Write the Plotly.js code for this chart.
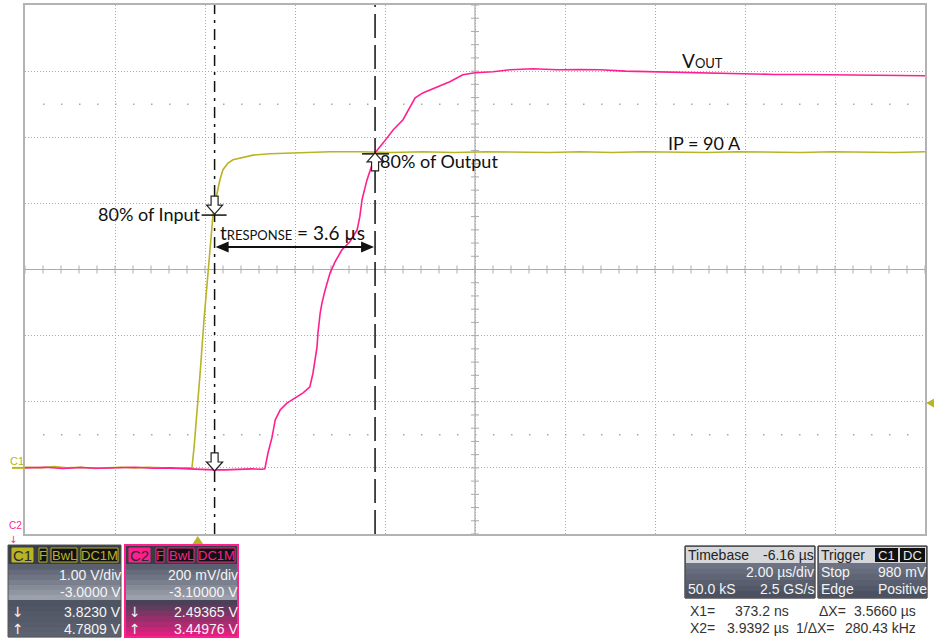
<!DOCTYPE html>
<html><head><meta charset="utf-8">
<script src="https://cdn.plot.ly/plotly-3.0.1.min.js"></script>
<style>html,body{margin:0;padding:0;background:#fff;} #chart{width:934px;height:641px;}</style>
</head><body><div id="chart"></div>
<script>
// ---------------- DATA ----------------
// Channel 1 (input current probe, volts) vs time (µs)
const c1Time = [-3.84, -3.5, -3.2, -2.9, -2.6, -2.3, -2.0, -1.7, -1.4, -1.1, -0.8, -0.5, -0.25, -0.13,
  -0.084, -0.018, 0.049, 0.138, 0.227, 0.293, 0.338, 0.382, 0.427, 0.493, 0.56, 0.671, 0.782, 1.0, 1.227,
  1.6, 2.05, 2.94, 3.6, 4.3, 5.0, 5.7, 6.4, 7.1, 7.8, 8.5, 9.2, 9.9, 10.6, 11.3, 12.0, 12.7, 13.4, 14.1,
  14.8, 15.5, 16.16];
const c1Volts = [0.01, 0.0, 0.02, 0.0, 0.01, -0.01, 0.0, 0.01, 0.0, 0.01, 0.0, -0.01, 0.0, 0.0,
  0.30, 0.80, 1.41, 2.24, 2.99, 3.52, 3.83, 4.01, 4.16, 4.36, 4.51, 4.61, 4.66, 4.70, 4.73,
  4.75, 4.76, 4.78, 4.78, 4.77, 4.78, 4.77, 4.78, 4.77, 4.77, 4.78, 4.77, 4.78, 4.77, 4.77, 4.78, 4.77,
  4.77, 4.78, 4.77, 4.77, 4.78];
// Channel 2 (VOUT, volts) vs time (µs)
const c2Time = [-3.84, -3.4, -3.0, -2.6, -2.2, -1.8, -1.4, -1.0, -0.6, -0.2, 0.1, 0.37, 0.6, 0.9, 1.2, 1.43,
  1.49, 1.56, 1.65, 1.72, 1.83, 1.98, 2.16, 2.34, 2.49, 2.56, 2.65, 2.67, 2.72, 2.76, 2.83, 2.87, 2.94,
  3.05, 3.20, 3.38, 3.54, 3.60, 3.65, 3.72, 3.76, 3.87, 3.94, 4.12, 4.34, 4.56, 4.72, 4.83, 5.00, 5.32,
  5.60, 5.89, 6.16, 6.56, 6.94, 7.45, 7.99, 8.5, 8.94, 9.5, 10.16, 10.8, 11.5, 12.16, 12.8, 13.5, 14.27,
  15.0, 15.6, 16.16];
const c2Volts = [2.500, 2.502, 2.498, 2.501, 2.499, 2.500, 2.502, 2.499, 2.500, 2.497, 2.495, 2.494, 2.494,
  2.496, 2.497, 2.496, 2.497, 2.545, 2.593, 2.645, 2.675, 2.696, 2.711, 2.727, 2.745, 2.787, 2.866, 2.908,
  2.969, 2.999, 3.038, 3.059, 3.090, 3.123, 3.159, 3.184, 3.220, 3.259, 3.311, 3.350, 3.371, 3.416, 3.453,
  3.483, 3.522, 3.553, 3.592, 3.619, 3.634, 3.652, 3.668, 3.689, 3.695, 3.698, 3.704, 3.707, 3.704, 3.705,
  3.704, 3.700, 3.698, 3.695, 3.693, 3.692, 3.690, 3.690, 3.689, 3.687, 3.687, 3.686];

// Scope settings / cursor readouts
const timePerDiv = 2.0;        // µs/div
const timebase = -6.16;        // µs (trigger offset)
const c1VoltsPerDiv = 1.0, c1Offset = -3.0;
const c2VoltsPerDiv = 0.2, c2Offset = -3.1;
const cursorX1 = 0.3732;       // µs
const cursorX2 = 3.9392;       // µs
const c1CursorV = [3.8230, 4.7809];
const c2CursorV = [2.49365, 3.44976];
const triggerLevel = 0.98;     // V on C1
const labels = {input: '80% of Input', output: '80% of Output',
  vout: 'V<span style="font-size:13px">OUT</span>', ip: 'IP = 90 A',
  resp: 't<span style="font-size:13px">RESPONSE</span> = 3.6 µs'};

// ---------------- LAYOUT HELPERS ----------------
const tCenter = -timebase;
const xr = [tCenter - 5 * timePerDiv, tCenter + 5 * timePerDiv];
const y1r = [-c1Offset - 4 * c1VoltsPerDiv, -c1Offset + 4 * c1VoltsPerDiv];
const y2r = [-c2Offset - 4 * c2VoltsPerDiv, -c2Offset + 4 * c2VoltsPerDiv];
const L = 25, R = 925, T = 5, B = 534, W = R - L, H = B - T;
const PX = px => (px - L) / W;
const PY = py => (B - py) / H;
const tx = t => L + (t - xr[0]) / (xr[1] - xr[0]) * W;          // time -> px
const v1y = v => B - (v - y1r[0]) / (y1r[1] - y1r[0]) * H;     // C1 volts -> px
const v2y = v => B - (v - y2r[0]) / (y2r[1] - y2r[0]) * H;     // C2 volts -> px

const YEL = '#b8b426', PINK = '#ff1f8e';
const shapes = [], ann = [];
const FONT = 'Liberation Sans, Arial, sans-serif';
const ARW = 'DejaVu Sans, sans-serif';
const LBL = 'Lato, Calibri, sans-serif';

// center cross
shapes.push({type:'line', xref:'x', yref:'paper', x0:tCenter, x1:tCenter, y0:0, y1:1, line:{color:'#ababab', width:1.2}, layer:'below'});
shapes.push({type:'line', xref:'paper', yref:'y', x0:0, x1:1, y0:-c1Offset, y1:-c1Offset, line:{color:'#ababab', width:1.2}, layer:'below'});
for (let i = -25; i <= 25; i++) {
  const t = tCenter + i * timePerDiv / 5;
  shapes.push({type:'line', xref:'x', yref:'paper', x0:t, x1:t, y0:0.5 - 4 / H, y1:0.5 + 4 / H, line:{color:'#ababab', width:1}, layer:'below'});
}
for (let j = -20; j <= 20; j++) {
  const v = -c1Offset + j * c1VoltsPerDiv / 5;
  shapes.push({type:'line', xref:'paper', yref:'y', x0:0.5 - 4 / W, x1:0.5 + 4 / W, y0:v, y1:v, line:{color:'#ababab', width:1}, layer:'below'});
}
// dotted rows at ±2.5 div
[-2.5, 2.5].forEach(d => {
  const v = -c1Offset + d * c1VoltsPerDiv;
  shapes.push({type:'line', xref:'paper', yref:'y', x0:18 / W, x1:1, y0:v, y1:v, line:{color:'#a8a8a8', width:1.5, dash:'1.5px,16.5px'}, layer:'below'});
});

// cursors
shapes.push({type:'line', xref:'x', yref:'paper', x0:cursorX1, x1:cursorX1, y0:0, y1:1, line:{color:'#111', width:1.5, dash:'11px,6px,3px,6px'}});
shapes.push({type:'line', xref:'x', yref:'paper', x0:cursorX2, x1:cursorX2, y0:0, y1:1, line:{color:'#111', width:1.5, dash:'24px,7px'}});
// horizontal cursor ticks
shapes.push({type:'line', xref:'paper', yref:'y', x0:PX(tx(cursorX1) - 13), x1:PX(tx(cursorX1) + 12), y0:c1CursorV[0], y1:c1CursorV[0], line:{color:'#111', width:1.5}});
shapes.push({type:'line', xref:'paper', yref:'y2', x0:PX(tx(cursorX2) - 13), x1:PX(tx(cursorX2) + 14), y0:c2CursorV[1], y1:c2CursorV[1], line:{color:'#111', width:1.5}});

// hollow block arrows
function blockArrow(cx, tip, dir) { // dir: +1 pointing down, -1 pointing up
  const p = (dx, dy) => PX(cx + dx).toFixed(5) + ',' + PY(tip - dir * dy).toFixed(5);
  return 'M' + p(-3.5, 18) + 'L' + p(3.5, 18) + 'L' + p(3.5, 9) + 'L' + p(8, 9) + 'L' + p(0, 0) + 'L' + p(-8, 9) + 'L' + p(-3.5, 9) + 'Z';
}
shapes.push({type:'path', xref:'paper', yref:'paper', path:blockArrow(tx(cursorX1), v1y(c1CursorV[0]) - 1, 1), fillcolor:'#fff', line:{color:'#222', width:1.2}});
shapes.push({type:'path', xref:'paper', yref:'paper', path:blockArrow(tx(cursorX1), v2y(c2CursorV[0]) + 1, 1), fillcolor:'#fff', line:{color:'#222', width:1.2}});
shapes.push({type:'path', xref:'paper', yref:'paper', path:blockArrow(tx(cursorX2), v2y(c2CursorV[1]) - 1, -1), fillcolor:'#fff', line:{color:'#222', width:1.2}});

// trigger markers
(function(){
  const ty = v1y(triggerLevel);
  shapes.push({type:'path', xref:'paper', yref:'paper', path:'M' + PX(926) + ',' + PY(ty) + 'L' + PX(935) + ',' + PY(ty - 5) + 'L' + PX(935) + ',' + PY(ty + 5) + 'Z', fillcolor:YEL, line:{width:0}});
  const tx0 = tx(0);
  shapes.push({type:'path', xref:'paper', yref:'paper', path:'M' + PX(tx0) + ',' + PY(536) + 'L' + PX(tx0 + 6) + ',' + PY(545) + 'L' + PX(tx0 - 6) + ',' + PY(545) + 'Z', fillcolor:YEL, line:{width:0}});
  // C1 ground marker line
  shapes.push({type:'line', xref:'paper', yref:'y', x0:PX(12), x1:0, y0:0, y1:0, line:{color:YEL, width:2}});
})();

// double arrow for response time (line + two filled heads)
(function(){
  const ay = 247, a = tx(cursorX1) + 1, b = tx(cursorX2) - 1;
  shapes.push({type:'line', xref:'paper', yref:'paper', x0:PX(a + 8), x1:PX(b - 8), y0:PY(ay), y1:PY(ay), line:{color:'#111', width:1.8}});
  shapes.push({type:'path', xref:'paper', yref:'paper', path:'M' + PX(a) + ',' + PY(ay) + 'L' + PX(a + 13) + ',' + PY(ay - 5.5) + 'L' + PX(a + 13) + ',' + PY(ay + 5.5) + 'Z', fillcolor:'#111', line:{width:0}});
  shapes.push({type:'path', xref:'paper', yref:'paper', path:'M' + PX(b) + ',' + PY(ay) + 'L' + PX(b - 13) + ',' + PY(ay - 5.5) + 'L' + PX(b - 13) + ',' + PY(ay + 5.5) + 'Z', fillcolor:'#111', line:{width:0}});
})();

// labels
ann.push({xref:'paper', yref:'paper', x:PX(tx(cursorX1) - 12), y:PY(v1y(c1CursorV[0]) - 1), xanchor:'right', yanchor:'middle', text:labels.input, showarrow:false, font:{family:LBL, size:18, color:'#111'}});
ann.push({xref:'paper', yref:'paper', x:PX(tx(cursorX2) + 3), y:PY(161), xanchor:'left', yanchor:'middle', text:labels.output, showarrow:false, font:{family:LBL, size:18, color:'#111'}});
ann.push({xref:'paper', yref:'paper', x:PX(292), y:PY(232), xanchor:'center', yanchor:'middle', text:labels.resp, showarrow:false, font:{family:LBL, size:19, color:'#111'}});
ann.push({xref:'paper', yref:'paper', x:PX(680), y:PY(60), xanchor:'left', yanchor:'middle', text:labels.vout, showarrow:false, font:{family:LBL, size:19, color:'#111'}});
ann.push({xref:'paper', yref:'paper', x:PX(666), y:PY(143), xanchor:'left', yanchor:'middle', text:labels.ip, showarrow:false, font:{family:LBL, size:18, color:'#111'}});
ann.push({xref:'paper', yref:'paper', x:PX(8), y:PY(461), xanchor:'left', yanchor:'middle', text:'C1', showarrow:false, font:{family:FONT, size:11, color:YEL}});
ann.push({xref:'paper', yref:'paper', x:PX(8), y:PY(525), xanchor:'left', yanchor:'middle', text:'C2', showarrow:false, font:{family:FONT, size:10, color:PINK}, borderpad:0});
ann.push({xref:'paper', yref:'paper', x:PX(8), y:PY(539), xanchor:'left', yanchor:'middle', text:'↓', showarrow:false, font:{family:ARW, size:10, color:PINK}, borderpad:0});

// ---------------- info panels ----------------
function rect(x0, y0, x1, y1, fill, lc, lw) {
  shapes.push({type:'rect', xref:'paper', yref:'paper', x0:PX(x0), x1:PX(x1), y0:PY(y0), y1:PY(y1), fillcolor:fill, line:{color:lc || fill, width:lw || 0}});
}
function hex(c){return [1,3,5].map(i=>parseInt(c.substr(i,2),16));}
function mix(a, b, f){const A=hex(a),Bc=hex(b);return 'rgb('+A.map((v,i)=>Math.round(v+(Bc[i]-v)*f)).join(',')+')';}
function bands(x0, y0, x1, y1, c0, c1, n) {
  const h = (y1 - y0) / n;
  for (let i = 0; i < n; i++) rect(x0, y0 + i * h, x1, y0 + (i + 1) * h + 0.3, mix(c0, c1, i / (n - 1)));
}
function txt(x, y, s, anchor, color, size, fam) {
  ann.push({xref:'paper', yref:'paper', x:PX(x), y:PY(y), xanchor:anchor, yanchor:'middle', text:s, showarrow:false,
    font:{family:fam || FONT, size:size || 14, color:color}});
}
function chanPanel(x0, col, name, vdiv, offs, vlo, vhi, bottomA, bottomB) {
  const x1 = x0 + 113;
  rect(x0, 545, x1, 637, '#40434c');
  rect(x0, 545, x1, 564, '#3a3c43');
  bands(x0, 564, x1, 600, '#5a6070', '#9ba0ab', 7);
  bands(x0, 600, x1, 637, bottomA, bottomB, 7);
  shapes.push({type:'rect', xref:'paper', yref:'paper', x0:PX(x0), x1:PX(x1), y0:PY(545), y1:PY(637), line:{color:name === 'C2' ? col : '#555', width:name === 'C2' ? 2 : 1}});
  // header boxes
  rect(x0 + 4, 548, x0 + 25, 562, col, col, 1);
  txt(x0 + 14.5, 555.5, name, 'center', '#2a2a2a', 15);
  rect(x0 + 31, 548, x0 + 39, 562, '#111', col, 1);
  rect(x0 + 43, 548, x0 + 69, 562, '#111', col, 1);
  rect(x0 + 73, 548, x0 + 110, 562, '#111', col, 1);
  txt(x0 + 35, 555.5, 'F', 'center', col, 13);
  txt(x0 + 56, 555.5, 'BwL', 'center', col, 13);
  txt(x0 + 91.5, 555.5, 'DC1M', 'center', col, 13);
  txt(x1 + 1.5, 575, vdiv, 'right', '#f4f4f4');
  txt(x1 + 1.5, 592, offs, 'right', '#f4f4f4');
  txt(x1 + 1.5, 612, vlo, 'right', '#f4f4f4');
  txt(x1 + 1.5, 629, vhi, 'right', '#f4f4f4');
  txt(x0 + 2, 612, '↓', 'left', '#f4f4f4', 14, ARW);
  txt(x0 + 2, 629, '↑', 'left', '#f4f4f4', 14, ARW);
}
chanPanel(8, YEL, 'C1', c1VoltsPerDiv.toFixed(2) + ' V/div', c1Offset.toFixed(4) + ' V',
  c1CursorV[0].toFixed(4) + ' V', c1CursorV[1].toFixed(4) + ' V', '#4e5461', '#5c6270');
chanPanel(125, PINK, 'C2', (c2VoltsPerDiv * 1000).toFixed(0) + ' mV/div', c2Offset.toFixed(5) + ' V',
  c2CursorV[0].toFixed(5) + ' V', c2CursorV[1].toFixed(5) + ' V', '#4a4058', '#e0207f');

// timebase panel
rect(685, 546, 815, 598, '#555b68', '#555', 1);
rect(686, 547, 814, 563, '#d6d7db');
bands(686, 563, 814, 597, '#6d7383', '#4b5160', 6);
shapes.push({type:'rect', xref:'paper', yref:'paper', x0:PX(685), x1:PX(815), y0:PY(546), y1:PY(598), line:{color:'#555', width:1}});
txt(686, 555, 'Timebase', 'left', '#222');
txt(816, 555, timebase.toFixed(2) + ' µs', 'right', '#222');
txt(816, 572, timePerDiv.toFixed(2) + ' µs/div', 'right', '#f4f4f4');
txt(686, 589, '50.0 kS', 'left', '#f4f4f4');
txt(816, 589, '2.5 GS/s', 'right', '#f4f4f4');
// trigger panel
rect(818, 546, 927, 598, '#555b68', '#555', 1);
rect(819, 547, 926, 563, '#d6d7db');
bands(819, 563, 926, 597, '#6d7383', '#4b5160', 6);
shapes.push({type:'rect', xref:'paper', yref:'paper', x0:PX(818), x1:PX(927), y0:PY(546), y1:PY(598), line:{color:'#555', width:1}});
rect(875, 548, 898, 562, '#111');
rect(900, 548, 925, 562, '#111');
txt(819, 555, 'Trigger', 'left', '#222');
txt(886.5, 555.5, 'C1', 'center', '#e8e8e8', 13);
txt(912.5, 555.5, 'DC', 'center', '#e8e8e8', 13);
txt(819, 572, 'Stop', 'left', '#f4f4f4');
txt(929, 572, Math.round(triggerLevel * 1000) + ' mV', 'right', '#f4f4f4');
txt(819, 589, 'Edge', 'left', '#f4f4f4');
txt(929, 589, 'Positive', 'right', '#f4f4f4');
// cursor readouts
const dX = cursorX2 - cursorX1;
txt(688, 611, 'X1=', 'left', '#333');
txt(791, 611, (cursorX1 * 1000).toFixed(1) + ' ns', 'right', '#333');
txt(817, 611, 'ΔX=', 'left', '#333');
txt(918, 611, dX.toFixed(4) + ' µs', 'right', '#333');
txt(688, 628, 'X2=', 'left', '#333');
txt(791, 628, cursorX2.toFixed(4) + ' µs', 'right', '#333');
txt(794, 628, '1/ΔX=', 'left', '#333');
txt(918, 628, (1000 / dX).toFixed(2) + ' kHz', 'right', '#333');

// ---------------- PLOT ----------------
const traces = [
  {x:c1Time, y:c1Volts, type:'scatter', mode:'lines', line:{color:YEL, width:1.6}, yaxis:'y', hoverinfo:'skip'},
  {x:c2Time, y:c2Volts, type:'scatter', mode:'lines', line:{color:PINK, width:1.6}, yaxis:'y2', hoverinfo:'skip'}
];
const grid = {showgrid:true, gridcolor:'#a9a9a9', gridwidth:1, griddash:'1px,2px', zeroline:false, showticklabels:false, ticks:'',
  showline:true, mirror:true, linecolor:'#b3b3b3', linewidth:2, fixedrange:true};
const layout = {
  width:934, height:641, margin:{l:L, r:934 - R, t:T, b:641 - B, pad:0},
  paper_bgcolor:'#fff', plot_bgcolor:'#fff', showlegend:false,
  xaxis:Object.assign({range:xr, dtick:timePerDiv, tick0:xr[0]}, grid),
  yaxis:Object.assign({range:y1r, dtick:c1VoltsPerDiv, tick0:y1r[0]}, grid),
  yaxis2:{range:y2r, overlaying:'y', visible:false, fixedrange:true},
  shapes:shapes, annotations:ann
};
Plotly.newPlot('chart', traces, layout, {staticPlot:true, displayModeBar:false});
</script></body></html>
